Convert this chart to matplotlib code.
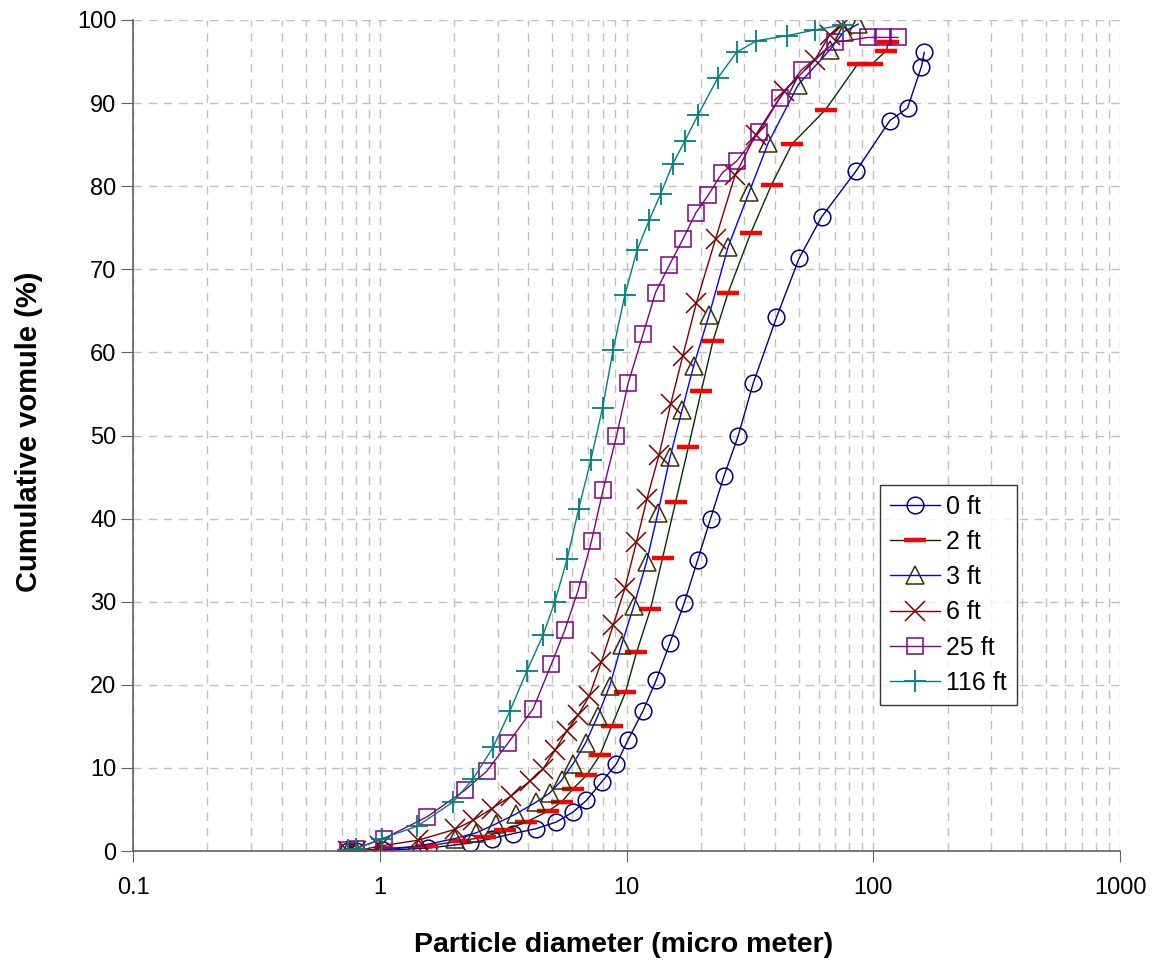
import numpy as np
import matplotlib
matplotlib.use("Agg")
import matplotlib.pyplot as plt
from matplotlib.ticker import FixedLocator, FuncFormatter, LogLocator, NullFormatter

plt.rcParams['font.family'] = ['Liberation Sans', 'DejaVu Sans']

# Cumulative particle size distributions at several depths
d_0ft = [0.74, 0.8, 1.03, 1.57, 2.32, 2.84, 3.47, 4.31, 5.2, 6.07, 6.88, 7.92, 9.1, 10.15,
         11.67, 13.2, 14.97, 17.1, 19.4, 21.9, 24.8, 28.3, 32.6, 40.5, 50.0, 61.7, 85.0,
         116.7, 137.6, 156.7, 160.8]
v_0ft = [0.0, 0.0, 0.1, 0.35, 0.95, 1.5, 2.1, 2.7, 3.5, 4.7, 6.1, 8.3, 10.5, 13.4,
         16.9, 20.6, 25.0, 29.8, 35.0, 40.0, 45.1, 49.9, 56.3, 64.2, 71.3, 76.3, 81.8,
         87.9, 89.4, 94.4, 96.1]

d_2ft = [0.74, 0.8, 1.05, 1.55, 2.11, 2.67, 3.21, 3.93, 4.81, 5.45, 6.07, 6.88, 7.79,
         8.69, 9.9, 10.97, 12.5, 14.0, 15.8, 17.8, 20.1, 22.4, 25.8, 31.9, 38.7, 46.9,
         64.0, 86.5, 98.6, 113.0, 115.0]
v_2ft = [0.0, 0.0, 0.3, 0.6, 1.2, 1.7, 2.5, 3.5, 4.8, 5.9, 7.5, 9.1, 11.5,
         15.0, 19.1, 23.9, 29.1, 35.3, 42.0, 48.6, 55.4, 61.4, 67.2, 74.4, 80.2, 85.1,
         89.2, 94.7, 94.7, 96.3, 97.3]

d_3ft = [0.74, 0.8, 1.0, 1.45, 2.01, 2.46, 2.97, 3.58, 4.31, 4.89, 5.45, 6.07, 6.82,
         7.63, 8.55, 9.54, 10.7, 12.05, 13.4, 15.0, 16.8, 18.7, 21.6, 25.8, 31.4, 37.5,
         49.6, 66.6, 76.0, 86.8]
v_3ft = [0.0, 0.0, 0.1, 0.6, 1.5, 2.2, 3.3, 4.5, 5.9, 7.0, 8.5, 10.5, 13.0,
         16.2, 19.9, 24.8, 29.5, 34.8, 40.7, 47.4, 53.1, 58.4, 64.5, 72.7, 79.3, 85.2,
         92.2, 96.4, 98.6, 99.5]

d_6ft = [0.74, 0.8, 1.0, 1.43, 2.01, 2.39, 2.84, 3.4, 4.05, 4.59, 5.12, 5.71, 6.37,
         7.05, 7.91, 8.83, 9.84, 10.97, 12.1, 13.55, 15.1, 16.9, 19.2, 22.96, 27.5,
         33.4, 43.4, 57.9, 66.6, 74.3]
v_6ft = [0.0, 0.0, 0.6, 1.3, 2.6, 3.7, 5.1, 6.6, 8.4, 9.9, 12.1, 14.4, 16.4,
         18.6, 22.8, 27.2, 31.6, 37.2, 42.4, 47.7, 53.8, 59.6, 66.0, 73.7, 81.3,
         86.2, 91.4, 95.2, 98.2, 99.4]

d_25ft = [0.74, 0.8, 1.04, 1.55, 2.21, 2.71, 3.31, 4.18, 4.96, 5.62, 6.37, 7.21, 8.04,
          9.1, 10.15, 11.67, 13.1, 14.9, 16.9, 19.1, 21.4, 24.4, 27.9, 34.4, 41.8,
          51.2, 69.9, 95.3, 109.6, 125.9]
v_25ft = [0.1, 0.3, 1.5, 4.1, 7.3, 9.6, 13.0, 17.1, 22.5, 26.6, 31.4, 37.3, 43.5,
          49.9, 56.3, 62.2, 67.2, 70.5, 73.6, 76.8, 78.9, 81.6, 83.0, 86.5, 90.6,
          94.0, 97.3, 97.9, 97.9, 97.9]

d_116ft = [0.74, 0.8, 1.02, 1.42, 1.98, 2.39, 2.88, 3.36, 3.95, 4.59, 5.12, 5.74, 6.4,
           7.17, 7.99, 8.82, 9.84, 11.03, 12.35, 13.76, 15.4, 17.2, 19.5, 23.4, 27.9,
           33.6, 44.5, 57.9, 75.4]
v_116ft = [0.1, 0.3, 1.5, 3.0, 5.9, 8.7, 12.5, 16.8, 21.7, 26.0, 30.0, 35.1, 41.2,
           47.1, 53.3, 60.3, 66.9, 72.3, 75.9, 79.1, 82.7, 85.4, 88.6, 93.0, 96.1,
           97.5, 98.1, 98.8, 99.4]

labels = ["0 ft", "2 ft", "3 ft", "6 ft", "25 ft", "116 ft"]
x_ticks = [0.1, 1, 10, 100, 1000]
y_ticks = [0, 10, 20, 30, 40, 50, 60, 70, 80, 90, 100]

fig = plt.figure(figsize=(11.6, 9.65), dpi=100)
ax = fig.add_axes([0.1147, 0.1181, 0.8509, 0.8612])

# (x, y, line colour, marker, marker colour, marker size, marker edge width)
series = [
    (d_0ft, v_0ft, '#000080', 'o', '#000080', 12, 1.1),
    (d_2ft, v_2ft, '#003300', '_', '#ff0000', 16, 3.2),
    (d_3ft, v_3ft, '#0000ff', '^', '#333300', 12.5, 1.1),
    (d_6ft, v_6ft, '#800000', 'x', '#800000', 14, 1.1),
    (d_25ft, v_25ft, '#800080', 's', '#800080', 12, 1.1),
    (d_116ft, v_116ft, '#008080', '+', '#008080', 16, 1.3),
]

for (xs, ys, lc, mk, mc, ms, mew), lab in zip(series, labels):
    ax.plot(xs, ys, color=lc, linewidth=1.0, marker=mk, markersize=ms,
            markerfacecolor='none', markeredgecolor=mc, markeredgewidth=mew,
            label=lab)

ax.set_xscale('log')
ax.set_xlim(0.1, 1000)
ax.set_ylim(0, 100)

ax.xaxis.set_major_locator(FixedLocator(x_ticks))
ax.xaxis.set_major_formatter(FuncFormatter(lambda v, p: f"{v:g}"))
ax.xaxis.set_minor_locator(LogLocator(base=10, subs=np.arange(2, 10)))
ax.xaxis.set_minor_formatter(NullFormatter())
ax.set_yticks(y_ticks)

grid_kw = dict(color='#c0c0c0', linestyle=(0, (6, 5)), linewidth=1.0)
ax.grid(which='major', axis='both', **grid_kw)
ax.grid(which='minor', axis='x', **grid_kw)
ax.set_axisbelow(True)

ax.tick_params(axis='x', which='major', direction='out', length=8,
               color='#606060', labelsize=17, pad=11)
ax.tick_params(axis='y', which='major', direction='out', length=9,
               color='#606060', labelsize=17, pad=3)
ax.tick_params(axis='x', which='minor', length=0)

for side in ['top', 'right']:
    ax.spines[side].set_visible(False)
for side in ['left', 'bottom']:
    ax.spines[side].set_color('#606060')
    ax.spines[side].set_linewidth(1.2)

ax.set_xlabel("Particle diameter (micro meter)", fontsize=20.5, fontweight='bold')
ax.set_ylabel("Cumulative vomule (%)", fontsize=21, fontweight='bold')
ax.xaxis.set_label_coords(0.4965, -0.0975)
ax.yaxis.set_label_coords(-0.0915, 0.504)

leg = ax.legend(loc='upper left', bbox_to_anchor=(0.757, 0.441), borderaxespad=0,
                fontsize=18, frameon=True, fancybox=False, edgecolor='black',
                handlelength=2.0, handletextpad=0.25, labelspacing=0.45,
                borderpad=0.4)
leg.get_frame().set_linewidth(1.0)

fig.savefig("out.png", dpi=100)
